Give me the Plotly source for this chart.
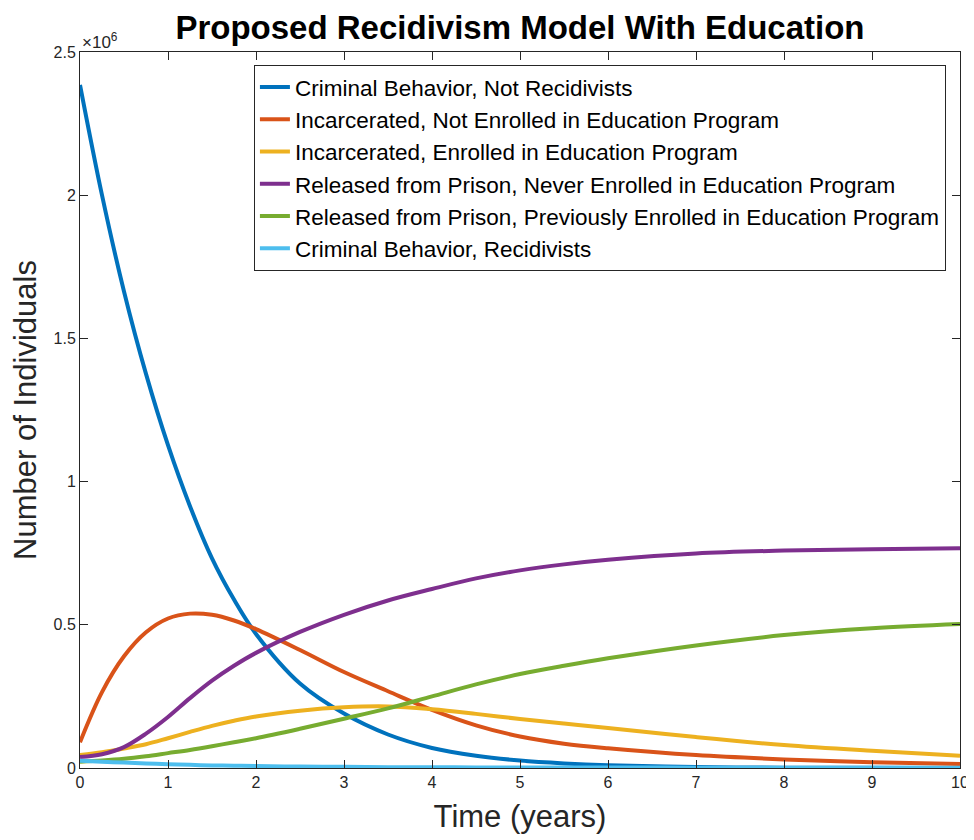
import plotly.graph_objects as go

# Time (years)
t = [0, 0.25, 0.5, 0.75, 1, 1.25, 1.5, 1.75, 2, 2.5, 3, 3.5, 4, 4.5, 5, 5.5, 6, 7, 8, 9, 10]

# Values in millions of individuals (axis shows x10^6)
crim_not_recid = [2.385, 2.0, 1.664, 1.376, 1.127, 0.914, 0.732, 0.588, 0.468, 0.295, 0.19, 0.117,
                  0.07, 0.043, 0.026, 0.016, 0.0096, 0.0035, 0.0013, 0.0005, 0.0002]
incarc_not_enrolled = [0.09, 0.265, 0.39, 0.474, 0.522, 0.539, 0.535, 0.515, 0.485, 0.412, 0.335, 0.268,
                       0.203, 0.149, 0.11, 0.085, 0.069, 0.045, 0.03, 0.02, 0.014]
incarc_enrolled = [0.045, 0.055, 0.068, 0.083, 0.104, 0.126, 0.147, 0.165, 0.18, 0.2, 0.212, 0.215,
                   0.205, 0.189, 0.171, 0.155, 0.14, 0.108, 0.08, 0.06, 0.043]
released_never = [0.038, 0.048, 0.073, 0.12, 0.178, 0.244, 0.305, 0.357, 0.402, 0.475, 0.535, 0.585,
                  0.625, 0.662, 0.69, 0.711, 0.727, 0.749, 0.759, 0.764, 0.767]
released_prev = [0.022, 0.026, 0.032, 0.041, 0.052, 0.063, 0.076, 0.09, 0.104, 0.137, 0.172, 0.208,
                 0.25, 0.292, 0.328, 0.357, 0.383, 0.428, 0.464, 0.488, 0.503]
crim_recid = [0.025, 0.022, 0.019, 0.016, 0.013, 0.011, 0.009, 0.008, 0.007, 0.005, 0.004, 0.003,
              0.003, 0.002, 0.002, 0.002, 0.002, 0.001, 0.001, 0.001, 0.001]

names = ["Criminal Behavior, Not Recidivists",
         "Incarcerated, Not Enrolled in Education Program",
         "Incarcerated, Enrolled in Education Program",
         "Released from Prison, Never Enrolled in Education Program",
         "Released from Prison, Previously Enrolled in Education Program",
         "Criminal Behavior, Recidivists"]
series = [crim_not_recid, incarc_not_enrolled, incarc_enrolled, released_never, released_prev, crim_recid]
colors = ["#0072BD", "#D95319", "#EDB120", "#7E2F8E", "#77AC30", "#4DBEEE"]

yticks = [0, 0.5, 1, 1.5, 2, 2.5]
ytick_text = ["0", "0.5", "1", "1.5", "2", "2.5"]
xticks = list(range(0, 11))

FONT = "Liberation Sans, Arial, Helvetica, sans-serif"
AX = "#262626"

fig = go.Figure()
for i, (nm, ys, c) in enumerate(zip(names, series, colors)):
    fig.add_trace(go.Scatter(
        x=t, y=ys, name=nm, mode="lines",
        line=dict(color=c, width=4, shape="spline", smoothing=1.0),
    ))

# page body has an 8px margin, so the figure is slightly smaller than the window
fig.update_layout(
    width=966, height=832,
    paper_bgcolor="white", plot_bgcolor="white",
    margin=dict(l=72, r=14, t=44, b=72, autoexpand=False),
    font=dict(family=FONT, color=AX),
    title=dict(text="<b>Proposed Recidivism Model With Education</b>",
               font=dict(size=33, color="black", family=FONT),
               x=0.530, xanchor="center", y=0.977, yanchor="middle"),
    showlegend=True,
    legend=dict(x=0.984, xanchor="right", y=0.982, yanchor="top",
                bgcolor="white", bordercolor=AX, borderwidth=1,
                font=dict(size=22.5, color="black", family=FONT),
                traceorder="normal"),
    xaxis=dict(range=[0, 10], tickvals=xticks, ticks="inside", ticklen=8,
               tickcolor=AX, showline=True, linecolor=AX, linewidth=1,
               mirror="ticks", showgrid=False, zeroline=False, automargin=False,
               tickfont=dict(size=16, color=AX),
               title=dict(text="Time (years)", font=dict(size=31, color=AX), standoff=15)),
    yaxis=dict(range=[0, 2.5], tickvals=yticks, ticktext=ytick_text, ticks="inside", ticklen=8,
               tickcolor=AX, showline=True, linecolor=AX, linewidth=1,
               mirror="ticks", showgrid=False, zeroline=False, automargin=False,
               tickfont=dict(size=16, color=AX),
               title=dict(text="Number of Individuals", font=dict(size=31, color=AX), standoff=12)),
)

fig.add_annotation(text="×10<sup>6</sup>", xref="paper", yref="paper",
                   x=0.0, y=1.0, xanchor="left", yanchor="bottom", showarrow=False,
                   font=dict(size=17, color=AX, family=FONT), yshift=-2)

fig.write_html("out.html")
